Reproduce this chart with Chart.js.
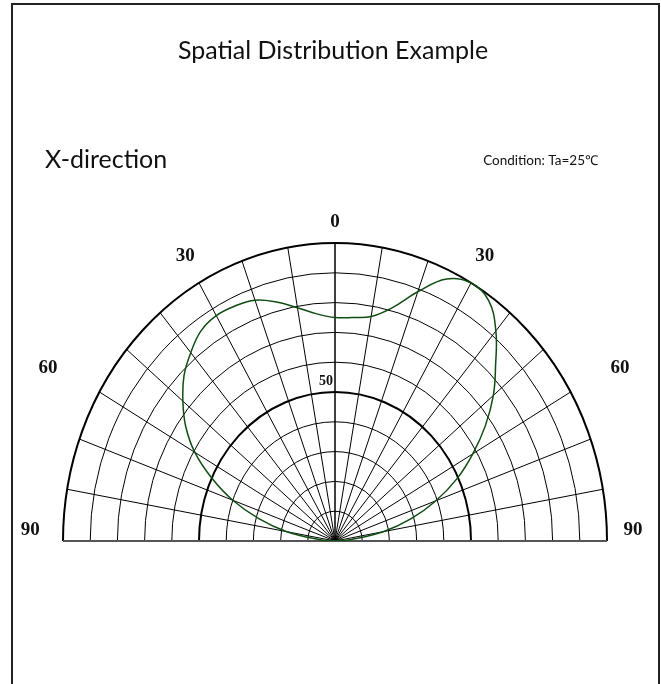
<!DOCTYPE html>
<html>
<head>
<meta charset="utf-8">
<script src="https://cdn.jsdelivr.net/npm/chart.js@4.4.1/dist/chart.umd.min.js"></script>
<style>
  html, body { margin: 0; padding: 0; background: #fff; }
  #wrap { width: 661px; height: 684px; }
</style>
</head>
<body>
<div id="wrap"><canvas id="polar"></canvas></div>
<script>
'use strict';

// angle (deg, 0 = straight up) and relative intensity (%)
var angles = [-90, -85, -80, -75, -70, -65, -60, -55, -50, -45, -40, -35, -30, -25, -20, -15, -10, -5,
    0, 5, 10, 15, 20, 25, 30, 35, 40, 45, 50, 55, 60, 65, 70, 75, 80, 85, 90];
var intensity = [0, 6, 18, 29, 40, 50, 59.5, 67, 73, 78.5, 82.5, 86, 87.3, 87, 86, 83, 79.5, 76.5,
    75, 75.3, 76.5, 81, 89, 97, 100, 98.5, 92, 83.5, 76, 67.5, 58.5, 49.5, 39.5, 29, 18, 6, 0];

var gridRings = [10, 20, 30, 40, 50, 60, 70, 80, 90, 100];
var gridSpokes = [-90, -80, -70, -60, -50, -40, -30, -20, -10, 0, 10, 20, 30, 40, 50, 60, 70, 80, 90];
var angleTicks = ['90', '60', '30', '0', '30', '60', '90'];

var titleText = 'Spatial Distribution Example';
var subTitle = 'X-direction';
var conditionText = 'Condition: Ta=25\u2103';

function toXY(deg, r) {
    var a = deg * Math.PI / 180;
    return { x: r * Math.sin(a), y: r * Math.cos(a) };
}

var points = angles.map(function (a, i) { return toXY(a, intensity[i]); });

var polarGrid = {
    id: 'polarGrid',
    beforeDatasetsDraw: function (chart) {
        var ctx = chart.ctx,
            xs = chart.scales.x,
            ys = chart.scales.y;
        var cx = xs.getPixelForValue(0),
            cy = ys.getPixelForValue(0);

        ctx.save();
        ctx.strokeStyle = '#000';

        // rings
        gridRings.forEach(function (r) {
            var rx = xs.getPixelForValue(r) - cx,
                ry = cy - ys.getPixelForValue(r);
            ctx.lineWidth = (r === 50 || r === 100) ? 2 : 1;
            ctx.beginPath();
            ctx.ellipse(cx, cy, rx, ry, 0, Math.PI, 2 * Math.PI);
            ctx.stroke();
        });

        // spokes
        gridSpokes.forEach(function (a) {
            var p = toXY(a, 100);
            ctx.lineWidth = a === 0 ? 1.5 : 1;
            ctx.beginPath();
            ctx.moveTo(cx, cy);
            ctx.lineTo(xs.getPixelForValue(p.x), ys.getPixelForValue(p.y));
            ctx.stroke();
        });

        // base line
        ctx.strokeStyle = '#555';
        ctx.lineWidth = 2;
        ctx.beginPath();
        ctx.moveTo(xs.getPixelForValue(-100), cy);
        ctx.lineTo(xs.getPixelForValue(100), cy);
        ctx.stroke();

        // angle labels
        var spots = [[-112, 3.7], [-105.5, 58], [-55.1, 95.6], [0, 107], [55.1, 95.6], [104.8, 58], [109.6, 3.7]];
        ctx.fillStyle = '#111';
        ctx.font = 'bold 19px "Liberation Serif"';
        ctx.textAlign = 'center';
        ctx.textBaseline = 'middle';
        angleTicks.forEach(function (t, i) {
            ctx.fillText(t, xs.getPixelForValue(spots[i][0]), ys.getPixelForValue(spots[i][1]));
        });
        ctx.font = 'bold 14px "Liberation Serif"';
        ctx.fillText('50', xs.getPixelForValue(-3.3), ys.getPixelForValue(53.5));

        ctx.restore();
    },
    afterDraw: function (chart) {
        var ctx = chart.ctx;
        ctx.save();
        ctx.fillStyle = '#111';
        ctx.textBaseline = 'middle';
        ctx.textAlign = 'center';
        ctx.font = '25px Lato';
        ctx.fillText(titleText, 333, 51);
        ctx.textAlign = 'left';
        ctx.fillText(subTitle, 45, 160);
        ctx.font = '13.5px Lato';
        ctx.textAlign = 'right';
        ctx.fillText(conditionText, 598, 161);

        // frame
        ctx.strokeStyle = '#222';
        ctx.lineWidth = 2;
        ctx.strokeRect(12, 4, 647, 700);
        ctx.restore();
    }
};

new Chart(document.getElementById('polar'), {
    type: 'scatter',
    data: {
        datasets: [{
            data: points,
            showLine: true,
            borderColor: '#0f4d12',
            borderWidth: 1.5,
            pointRadius: 0,
            tension: 0.4,
            fill: false
        }]
    },
    options: {
        responsive: true,
        maintainAspectRatio: false,
        animation: false,
        layout: { padding: { left: 63, right: 54, top: 243, bottom: 143 } },
        plugins: {
            legend: { display: false },
            tooltip: { enabled: false },
            title: { display: false }
        },
        scales: {
            x: { type: 'linear', min: -100, max: 100, display: false },
            y: { type: 'linear', min: 0, max: 100, display: false }
        }
    },
    plugins: [polarGrid]
});
</script>
</body>
</html>
